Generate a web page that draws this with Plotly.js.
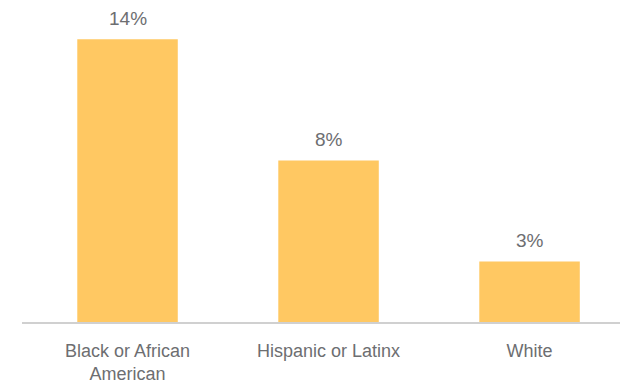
<!DOCTYPE html>
<html>
<head>
<meta charset="utf-8">
<script src="https://cdn.plot.ly/plotly-3.0.1.min.js"></script>
<style>html,body{margin:0;padding:0;background:#fff;}#chart{width:620px;height:384px;}</style>
</head>
<body>
<div id="chart"></div>
<script>
const categories = ["Black or African<br>American", "Hispanic or Latinx", "White"];
const values = [14, 8, 3];
const valueLabels = ["14%", "8%", "3%"];

const trace = {
  type: 'bar',
  x: categories,
  y: values,
  marker: {color: '#FFC862'},
  width: 0.5,
  hoverinfo: 'none'
};

const annotations = categories.map((c, i) => ({
  x: c, y: values[i], xref: 'x', yref: 'y',
  text: valueLabels[i], showarrow: false,
  yanchor: 'bottom', yshift: 8,
  font: {family: 'Liberation Sans, Arial, sans-serif', size: 19, color: '#6d6e71'}
}));

const layout = {
  width: 620, height: 384,
  margin: {l: 22, r: 0, t: 10, b: 62},
  paper_bgcolor: '#fff', plot_bgcolor: '#fff',
  showlegend: false,
  annotations: annotations,
  xaxis: {
    type: 'category',
    range: [-0.525, 2.45],
    showline: true, linecolor: '#d0d0d0', linewidth: 2,
    ticks: '', ticklabelstandoff: 11,
    tickfont: {family: 'Liberation Sans, Arial, sans-serif', size: 18, color: '#6d6e71'},
    showgrid: false, zeroline: false, fixedrange: true
  },
  yaxis: {
    range: [0, 15.45],
    visible: false, showgrid: false, zeroline: false, fixedrange: true
  }
};

Plotly.newPlot('chart', [trace], layout, {displayModeBar: false, staticPlot: true});
</script>
</body>
</html>
